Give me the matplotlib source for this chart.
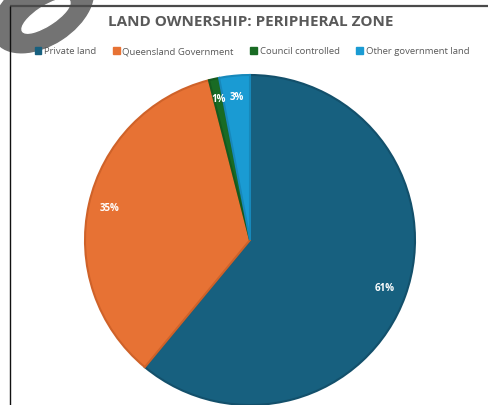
import matplotlib
matplotlib.use("Agg")
import matplotlib.pyplot as plt
from matplotlib.patches import Ellipse, Rectangle

categories = ["Private land", "Queensland Government", "Council controlled", "Other government land"]
values = [61, 35, 1, 3]
labels = ["61%", "35%", "1%", "3%"]
colors = ["#17607F", "#E77234", "#196B24", "#1A9BD3"]
edge_colors = ["#13506B", "#CF6229", "#145A1E", "#1788BA"]
title = "LAND OWNERSHIP: PERIPHERAL ZONE"

W, H = 489, 405
fig = plt.figure(figsize=(W / 100, H / 100), dpi=100)

# overlay in pixel coordinates for decorations
ov = fig.add_axes([0, 0, 1, 1])
ov.set_xlim(0, W)
ov.set_ylim(H, 0)
ov.axis("off")
ov.add_patch(Ellipse((43, 11), 112, 68, angle=-33, color="#737373", zorder=1))
ov.add_patch(Ellipse((46, 16), 56, 19, angle=-33, color="white", zorder=2))
ov.plot([9.5, W], [5.5, 5.5], color="#4a4a4a", lw=1.6, zorder=3, solid_capstyle="butt")
ov.plot([9.5, 9.5], [5.5, H], color="#111111", lw=1.0, zorder=3, solid_capstyle="butt")

# pie axes
cx, cy, r = 250, 240, 165
ax = fig.add_axes([(cx - r) / W, 1 - (cy + r) / H, 2 * r / W, 2 * r / H])
wedges, texts = ax.pie(values, colors=colors, startangle=90, counterclock=False,
                       labels=labels, labeldistance=0.87,
                       wedgeprops=dict(linewidth=1.5),
                       textprops=dict(color="white", fontsize=7, fontweight="bold", family="Open Sans"))
for w, ec in zip(wedges, edge_colors):
    w.set_edgecolor(ec)
for t in texts:
    t.set_ha("center")
    t.set_va("center")
ax.set_xlim(-1, 1)
ax.set_ylim(-1, 1)
ax.set_aspect("equal")

fig.text(251 / W, 1 - 22 / H, title, ha="center", va="center", fontsize=11,
         fontweight="bold", color="#595959", family="Open Sans")

handles = [Rectangle((0, 0), 1, 1, facecolor=c, edgecolor=c) for c in colors]
leg = fig.legend(handles, categories, loc="center", bbox_to_anchor=(252 / W, 1 - 51.5 / H), ncol=4,
                 frameon=False, handlelength=0.7, handleheight=0.7, handletextpad=0.3,
                 columnspacing=1.75, prop=dict(family="Open Sans", size=6.8))
for t in leg.get_texts():
    t.set_color("#595959")

fig.savefig("out.png", dpi=100)
